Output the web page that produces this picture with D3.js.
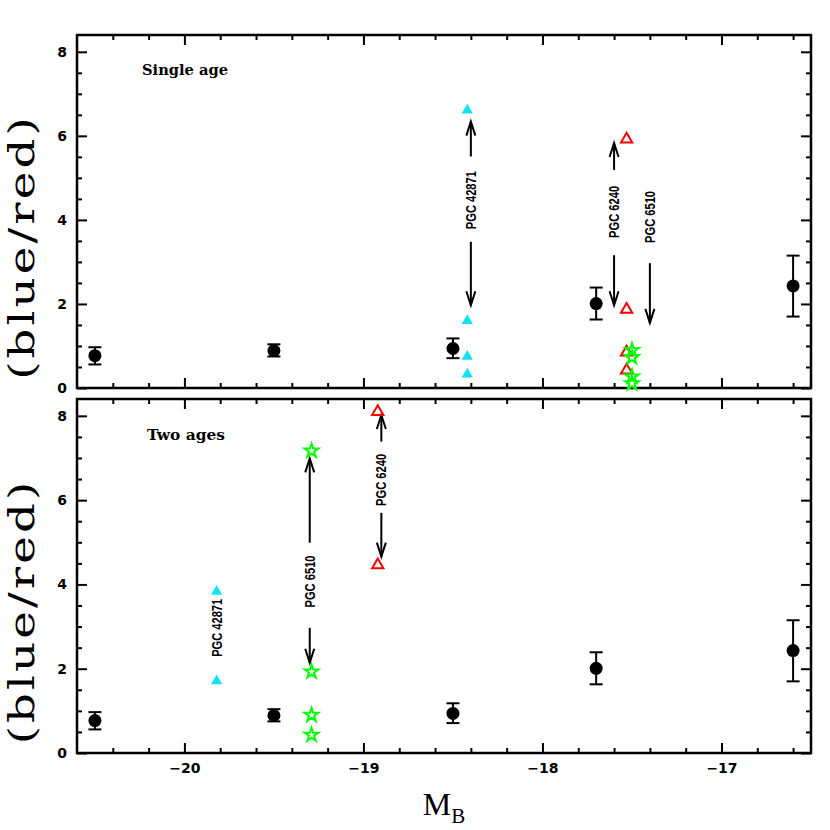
<!DOCTYPE html>
<html>
<head>
<meta charset="utf-8">
<script src="https://cdn.jsdelivr.net/npm/d3@7"></script>
<style>
  body { margin: 0; background: #fff; }
  svg { display: block; }
</style>
</head>
<body>
<script>
// axis ticks
const xMajor = [-20, -19, -18, -17];
const xLabels = ['\u221220', '\u221219', '\u221218', '\u221217'];
const yMajor = [0, 2, 4, 6, 8];
const yLabels = ['0', '2', '4', '6', '8'];

// binned means with error bars (same in both panels)
const binMB = [-20.5, -19.5, -18.5, -17.7, -16.6];
const binRatio = [0.77, 0.89, 0.94, 2.01, 2.43];
const binLow = [0.56, 0.75, 0.71, 1.63, 1.70];
const binHigh = [0.97, 1.04, 1.18, 2.39, 3.15];

// top panel: single age
const singleCyanMB = [-18.42, -18.42, -18.42, -18.42];
const singleCyan = [6.61, 1.60, 0.75, 0.33];
const singleRedMB = [-17.53, -17.53, -17.53, -17.53];
const singleRed = [5.92, 1.87, 0.85, 0.42];
const singleGreenMB = [-17.50, -17.50, -17.50, -17.50];
const singleGreen = [0.90, 0.73, 0.27, 0.11];
const singleArrowMB = [-18.40, -18.40, -17.60, -17.60, -17.40];
const singleArrowFrom = [5.51, 3.48, 5.19, 3.16, 2.97];
const singleArrowTo = [6.34, 1.97, 5.83, 1.97, 1.55];
const singleLabels = ['PGC 42871', 'PGC 6240', 'PGC 6510'];
const singleLabelMB = [-18.40, -17.60, -17.40];
const singleLabelY = [4.47, 4.19, 4.07];

// bottom panel: two ages
const twoCyanMB = [-19.82, -19.82];
const twoCyan = [3.83, 1.71];
const twoRedMB = [-18.92, -18.92];
const twoRed = [8.10, 4.46];
const twoGreenMB = [-19.29, -19.29, -19.29, -19.29];
const twoGreen = [7.17, 1.93, 0.90, 0.43];
const twoArrowMB = [-19.30, -19.30, -18.90, -18.90];
const twoArrowFrom = [4.99, 2.97, 7.39, 5.70];
const twoArrowTo = [6.99, 2.14, 8.02, 4.66];
const twoLabels = ['PGC 42871', 'PGC 6510', 'PGC 6240'];
const twoLabelMB = [-19.82, -19.30, -18.90];
const twoLabelY = [2.97, 4.07, 6.48];

const svgWidth = 830;
const svgHeight = 830;
const left = 77, right = 811;

const svg = d3.select('body').append('svg')
  .attr('width', svgWidth)
  .attr('height', svgHeight)
  .style('font-family', "'DejaVu Sans', sans-serif");

const x = d3.scaleLinear().domain([-20.6, -16.5]).range([left, right]);

const xMinor = d3.range(-20.6, -16.5 + 1e-9, 0.2).map((v) => +v.toFixed(1))
  .filter((v) => !xMajor.includes(v) && v > -20.6 && v < -16.5);
const yMinor = d3.range(0.5, 8.4, 0.5).filter((v) => v % 2 !== 0);

const zip = (a, b) => a.map((v, i) => [v, b[i]]);

function drawPanel(top, bottom, cfg) {
  const y = d3.scaleLinear().domain([0, 8.4]).range([bottom, top]);
  const g = svg.append('g');

  const styleAxis = (sel) => {
    sel.select('.domain').remove();
    sel.selectAll('line').attr('stroke', '#000').attr('stroke-width', 2);
    sel.selectAll('text')
      .attr('fill', '#000')
      .style('font-size', '14px')
      .style('font-weight', 'bold')
      .style('font-family', "'DejaVu Sans', sans-serif");
  };

  // x axes: bottom + top, ticks inward
  [d3.axisBottom, d3.axisTop].forEach((ax) => {
    const yy = ax === d3.axisBottom ? bottom : top;
    g.append('g').attr('transform', `translate(0,${yy})`)
      .call(ax(x).tickValues(xMajor).tickSize(-10)
        .tickFormat((d, i) => (cfg.xLabels && ax === d3.axisBottom) ? xLabels[i] : '')
        .tickPadding(10))
      .call(styleAxis);
    g.append('g').attr('transform', `translate(0,${yy})`)
      .call(ax(x).tickValues(xMinor).tickSize(-5).tickFormat(''))
      .call(styleAxis);
  });

  // y axes: left + right
  [d3.axisLeft, d3.axisRight].forEach((ax) => {
    const xx = ax === d3.axisLeft ? left : right;
    g.append('g').attr('transform', `translate(${xx},0)`)
      .call(ax(y).tickValues(yMajor).tickSize(-10)
        .tickFormat((d, i) => ax === d3.axisLeft ? yLabels[i] : '')
        .tickPadding(10))
      .call(styleAxis);
    g.append('g').attr('transform', `translate(${xx},0)`)
      .call(ax(y).tickValues(yMinor).tickSize(-5).tickFormat(''))
      .call(styleAxis);
  });

  // frame
  g.append('rect')
    .attr('x', left).attr('y', top)
    .attr('width', right - left).attr('height', bottom - top)
    .attr('fill', 'none').attr('stroke', '#000').attr('stroke-width', 2.5);

  // y label (widened glyphs plus a little letter spacing)
  g.append('text')
    .attr('transform', `translate(34,${(top + bottom) / 2 + 37}) rotate(-90) scale(1.3,1)`)
    .attr('text-anchor', 'middle')
    .attr('textLength', 202)
    .attr('lengthAdjust', 'spacing')
    .style('font-family', "'DejaVu Serif', serif")
    .style('font-size', '36px')
    .text('(blue/red)');

  // panel title
  g.append('text')
    .attr('x', cfg.titleX).attr('y', top + cfg.titleDy)
    .attr('textLength', cfg.titleLen)
    .attr('lengthAdjust', 'spacingAndGlyphs')
    .style('font-family', "'DejaVu Serif', serif")
    .style('font-weight', 'bold')
    .style('font-size', '14px')
    .text(cfg.title);

  // arrows
  const arrows = cfg.arrowMB.map((m, i) => ({m, from: cfg.arrowFrom[i], to: cfg.arrowTo[i]}));
  const ag = g.append('g').attr('stroke', '#000').attr('stroke-width', 2).attr('fill', 'none');
  arrows.forEach((a) => {
    const px = x(a.m), y1 = y(a.from), y2 = y(a.to);
    const dir = y2 < y1 ? 1 : -1;
    ag.append('line').attr('x1', px).attr('x2', px).attr('y1', y1).attr('y2', y2);
    ag.append('path')
      .attr('d', `M${px - 4.5},${y2 + dir * 14}L${px},${y2}L${px + 4.5},${y2 + dir * 14}`);
  });

  // PGC labels
  cfg.labels.forEach((t, i) => {
    g.append('text')
      .attr('transform', `translate(${x(cfg.labelMB[i])},${y(cfg.labelY[i])}) rotate(-90)`)
      .attr('text-anchor', 'middle')
      .attr('dy', '0.36em')
      .attr('textLength', t.length > 8 ? 58 : 52)
      .attr('lengthAdjust', 'spacingAndGlyphs')
      .style('font-family', "'Liberation Sans Narrow', 'Liberation Sans', sans-serif")
      .style('font-weight', 'bold')
      .style('font-size', '14px')
      .text(t);
  });

  // error bars + circles
  const bins = binMB.map((m, i) => ({m, v: binRatio[i], lo: binLow[i], hi: binHigh[i]}));
  const eg = g.append('g').attr('stroke', '#000').attr('stroke-width', 2);
  bins.forEach((b) => {
    const px = x(b.m);
    eg.append('line').attr('x1', px).attr('x2', px).attr('y1', y(b.lo)).attr('y2', y(b.hi));
    eg.append('line').attr('x1', px - 6.5).attr('x2', px + 6.5).attr('y1', y(b.lo)).attr('y2', y(b.lo));
    eg.append('line').attr('x1', px - 6.5).attr('x2', px + 6.5).attr('y1', y(b.hi)).attr('y2', y(b.hi));
  });
  g.selectAll('circle.bin').data(bins).enter().append('circle')
    .attr('class', 'bin')
    .attr('cx', (d) => x(d.m)).attr('cy', (d) => y(d.v))
    .attr('r', 6.5).attr('fill', '#000');

  // symbols
  const tri = d3.symbol(d3.symbolTriangle, 55);
  const star = d3.symbol(d3.symbolStar, 58);
  g.selectAll('path.cyan').data(cfg.cyan).enter().append('path')
    .attr('class', 'cyan')
    .attr('transform', (d) => `translate(${x(d[0])},${y(d[1])})`)
    .attr('d', tri).attr('fill', '#12e2f2');
  g.selectAll('path.red').data(cfg.red).enter().append('path')
    .attr('class', 'red')
    .attr('transform', (d) => `translate(${x(d[0])},${y(d[1])})`)
    .attr('d', tri).attr('fill', 'none').attr('stroke', '#ff0000').attr('stroke-width', 2);
  g.selectAll('path.green').data(cfg.green).enter().append('path')
    .attr('class', 'green')
    .attr('transform', (d) => `translate(${x(d[0])},${y(d[1])})`)
    .attr('d', star).attr('fill', 'none').attr('stroke', '#00ff00').attr('stroke-width', 2);
}

drawPanel(35, 388, {
  xLabels: false,
  title: 'Single age', titleX: 142, titleDy: 40, titleLen: 86,
  cyan: zip(singleCyanMB, singleCyan),
  red: zip(singleRedMB, singleRed),
  green: zip(singleGreenMB, singleGreen),
  arrowMB: singleArrowMB, arrowFrom: singleArrowFrom, arrowTo: singleArrowTo,
  labels: singleLabels, labelMB: singleLabelMB, labelY: singleLabelY
});

drawPanel(399, 753, {
  xLabels: true,
  title: 'Two ages', titleX: 147, titleDy: 41, titleLen: 78,
  cyan: zip(twoCyanMB, twoCyan),
  red: zip(twoRedMB, twoRed),
  green: zip(twoGreenMB, twoGreen),
  arrowMB: twoArrowMB, arrowFrom: twoArrowFrom, arrowTo: twoArrowTo,
  labels: twoLabels, labelMB: twoLabelMB, labelY: twoLabelY
});

// x label M_B
const xl = svg.append('text')
  .attr('x', (left + right) / 2)
  .attr('y', 815)
  .attr('text-anchor', 'middle')
  .style('font-family', "'Liberation Serif', serif")
  .style('font-size', '32px');
xl.append('tspan').text('M');
xl.append('tspan').attr('dy', 8).style('font-size', '21px').text('B');
</script>
</body>
</html>
